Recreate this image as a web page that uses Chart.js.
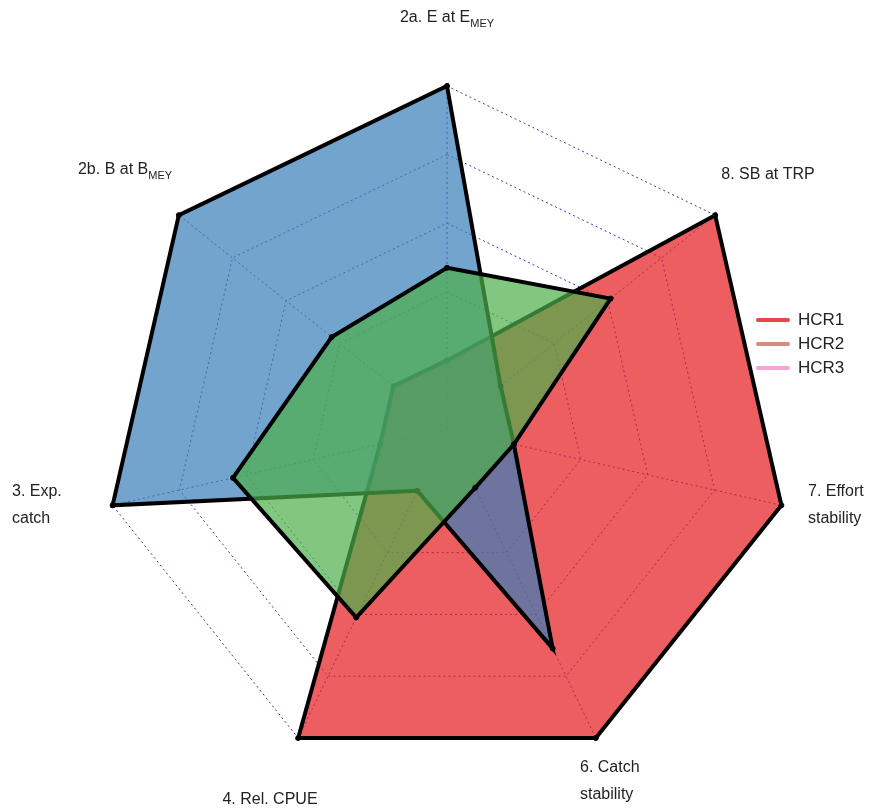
<!DOCTYPE html>
<html>
<head>
<meta charset="utf-8">
<script src="https://cdn.jsdelivr.net/npm/chart.js@4"></script>
<style>
  body { margin: 0; background: #fff; }
  #wrap { position: relative; width: 890px; height: 812px; }
  .legend { position: absolute; left: 756px; top: 308px; font: 17px "Liberation Sans", Arial, sans-serif; color: #222; }
  .legend div { display: flex; align-items: center; height: 24px; }
  .legend span.sw { display: inline-block; width: 34px; height: 4px; margin-right: 8px; border-radius: 2px; }
</style>
</head>
<body>
<div id="wrap">
  <canvas id="radar" width="890" height="812"></canvas>
  <div class="legend">
    <div><span class="sw" style="background:#e8474c"></span>HCR1</div>
    <div><span class="sw" style="background:#d68a78"></span>HCR2</div>
    <div><span class="sw" style="background:#f5a3d2"></span>HCR3</div>
  </div>
</div>
<script>
// axes clockwise from top
const AXES = [
  ['2a. E at E', 'MEY'], ['8. SB at TRP'], ['7. Effort', 'stability'],
  ['6. Catch', 'stability'], ['4. Rel. CPUE'], ['3. Exp.', 'catch'], ['2b. B at B', 'MEY']
];
const hcr1 = [0.2, 1.0, 1.0, 1.0, 1.0, 0.2, 0.2];
const hcr2 = [1.0, 0.2, 0.2, 0.71, 0.2, 1.0, 1.0];
const hcr3 = [0.47, 0.61, 0.2, 0.19, 0.61, 0.64, 0.43];
const SERIES_NAMES = ['HCR1', 'HCR2', 'HCR3'];
const FILLS = ['rgba(228,26,28,0.7)', 'rgba(55,126,184,0.7)', 'rgba(77,175,74,0.7)'];

const FONT = '"Liberation Sans", Arial, sans-serif';

// draws the axis labels, some with subscripts
const labelPlugin = {
  id: 'axisLabels',
  afterDraw(chart) {
    const ctx = chart.ctx;
    ctx.save();
    ctx.fillStyle = '#222';
    ctx.textBaseline = 'middle';
    AXES.forEach((lab, i) => {
      if (i === 0 || i === 6) {
        ctx.font = '16px ' + FONT;
        const w1 = ctx.measureText(lab[0]).width;
        ctx.font = '11px ' + FONT;
        const w2 = ctx.measureText(lab[1]).width;
        const cx = i === 0 ? 447 : 125, y = i === 0 ? 18 : 170;
        const x = cx - (w1 + w2) / 2;
        ctx.textAlign = 'left';
        ctx.font = '16px ' + FONT;
        ctx.fillText(lab[0], x, y);
        ctx.font = '11px ' + FONT;
        ctx.fillText(lab[1], x + w1, y + 6);
      } else {
        ctx.font = '16px ' + FONT;
        let pos;
        if (i === 1) pos = { x: 768, y: 175, a: 'center' };
        if (i === 2) pos = { x: 808, y: 492, a: 'left' };
        if (i === 3) pos = { x: 580, y: 768, a: 'left' };
        if (i === 4) pos = { x: 270, y: 800, a: 'center' };
        if (i === 5) pos = { x: 12, y: 492, a: 'left' };
        ctx.textAlign = pos.a;
        lab.forEach((t, k) => ctx.fillText(t, pos.x, pos.y + k * 27));
      }
    });
    ctx.restore();
  }
};

const datasets = [hcr1, hcr2, hcr3].map((d, i) => ({
  label: SERIES_NAMES[i],
  data: d,
  backgroundColor: FILLS[i],
  borderColor: '#000',
  borderWidth: 4,
  pointBackgroundColor: '#000',
  pointBorderColor: '#000',
  pointRadius: 2.5,
  pointBorderWidth: 1,
  fill: true,
  order: 3 - i
}));

new Chart(document.getElementById('radar'), {
  type: 'radar',
  data: { labels: AXES.map(a => a.join(' ')), datasets },
  plugins: [labelPlugin],
  options: {
    responsive: false,
    animation: false,
    layout: { padding: { top: 86, bottom: 39, left: 104, right: 100 } },
    plugins: { legend: { display: false }, tooltip: { enabled: false } },
    elements: { line: { tension: 0 } },
    scales: {
      r: {
        min: 0, max: 1,
        ticks: { display: false, stepSize: 0.2 },
        pointLabels: { display: false },
        grid: { color: '#3a3ab0', lineWidth: 1 },
        border: { dash: [2, 3] },
        angleLines: { color: '#3a3ab0', lineWidth: 1, borderDash: [2, 3] }
      }
    }
  }
});
</script>
</body>
</html>
